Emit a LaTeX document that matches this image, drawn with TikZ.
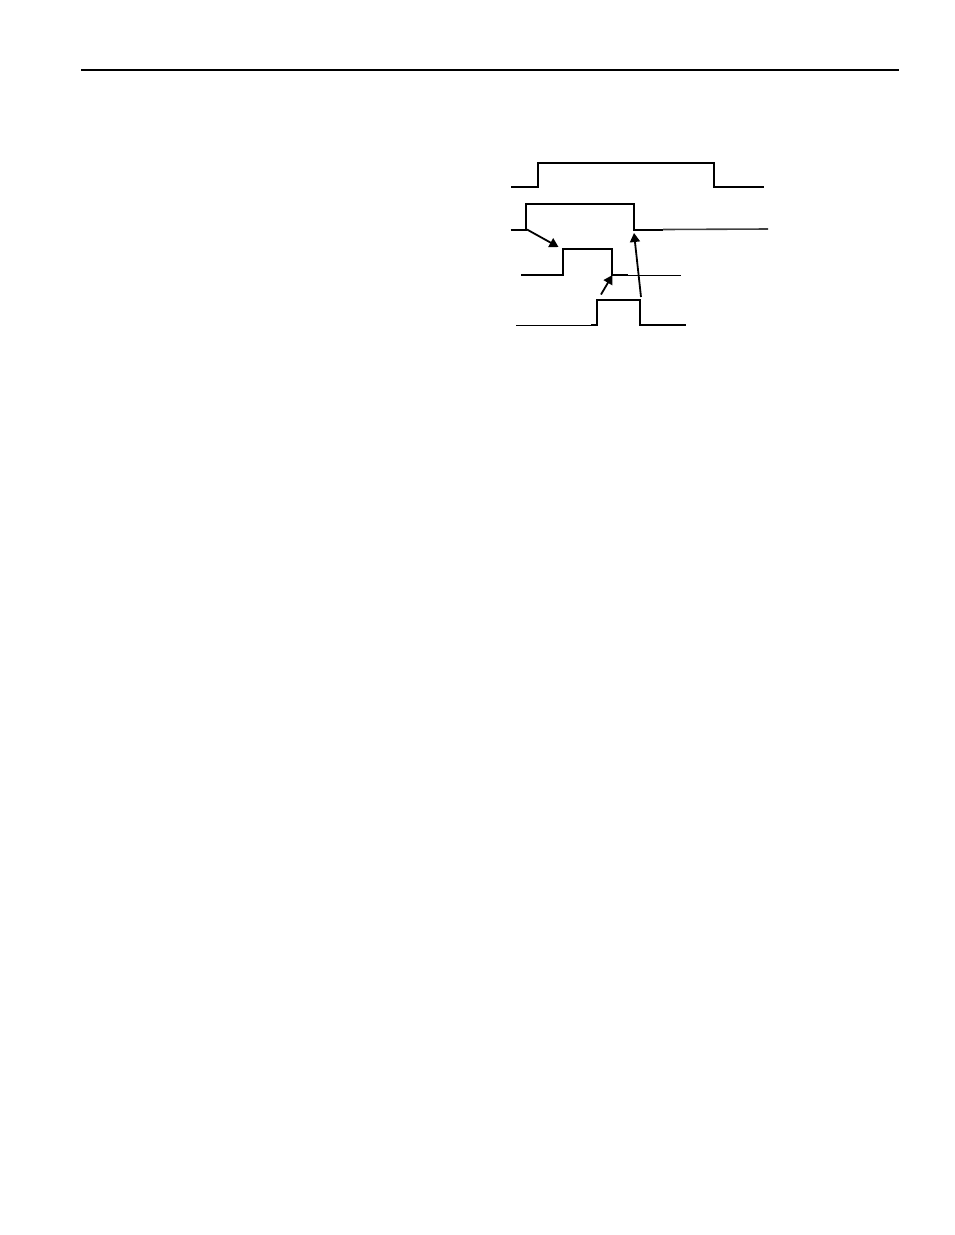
\documentclass[tikz,border=0pt]{standalone}
\usepackage{tikz}
\usetikzlibrary{arrows.meta}

\tikzset{
  sig/.style={line width=2pt, line join=miter},
  sigthin/.style={line width=1pt},
  cause/.style={line width=1.8pt, -{Triangle[length=9pt,width=10pt]}}
}

\begin{document}
\begin{tikzpicture}[x=1pt,y=-1pt]
			%%%%% START %%%%%
			\def\W{954}
			\def\H{1235}
			\def\lowA{187}
			\def\highA{162.5}
			\def\lowB{229.5}
			\def\highB{203.5}
			\def\lowC{274.5}
			\def\highC{248.5}
			\def\lowD{325}
			\def\highD{300}
			
			\useasboundingbox (0,0) rectangle (\W,\H);
			
			\draw[line width=2pt] (81,70) -- (899,70);
			
			% first trace
			\draw[sig] (511,\lowA) -- (538,\lowA) -- (538,\highA) -- (714,\highA) -- (714,\lowA) -- (764,\lowA);
			
			% second trace
			\draw[sig] (510.5,\lowB) -- (526,\lowB) -- (526,\highB) -- (634,\highB) -- (634,\lowB) -- (663,\lowB);
			\draw[line width=1.6pt, black!75] (663,\lowB) -- (768,\lowB-0.5);
			
			% third trace
			\draw[sig] (521,\lowC) -- (562.5,\lowC) -- (562.5,\highC) -- (612,\highC) -- (612,\lowC) -- (628,\lowC);
			\draw[sigthin] (628,\lowC+0.5) -- (680.5,\lowC+0.5);
			
			% fourth trace
			\draw[sigthin] (516,\lowD) -- (591,\lowD);
			\draw[sig] (591,\lowD) -- (597,\lowD) -- (597,\highD) -- (640,\highD) -- (640,\lowD) -- (686,\lowD);
			
			% arrows
			\coordinate (riseB) at (527,\lowB);
			\coordinate (riseC) at (558.5,247);
			\coordinate (fallC) at (612.5,\lowC+0.5);
			\coordinate (fallB) at (634,233);
			\coordinate (riseD) at (601,294.5);
			\coordinate (fallD) at (641,297);
			
			\draw[cause] (riseB) -- (riseC);
			\draw[cause] (riseD) -- (fallC);
			\draw[cause] (fallD) -- (fallB);
			%%%%% END %%%%%
\end{tikzpicture}
\end{document}
